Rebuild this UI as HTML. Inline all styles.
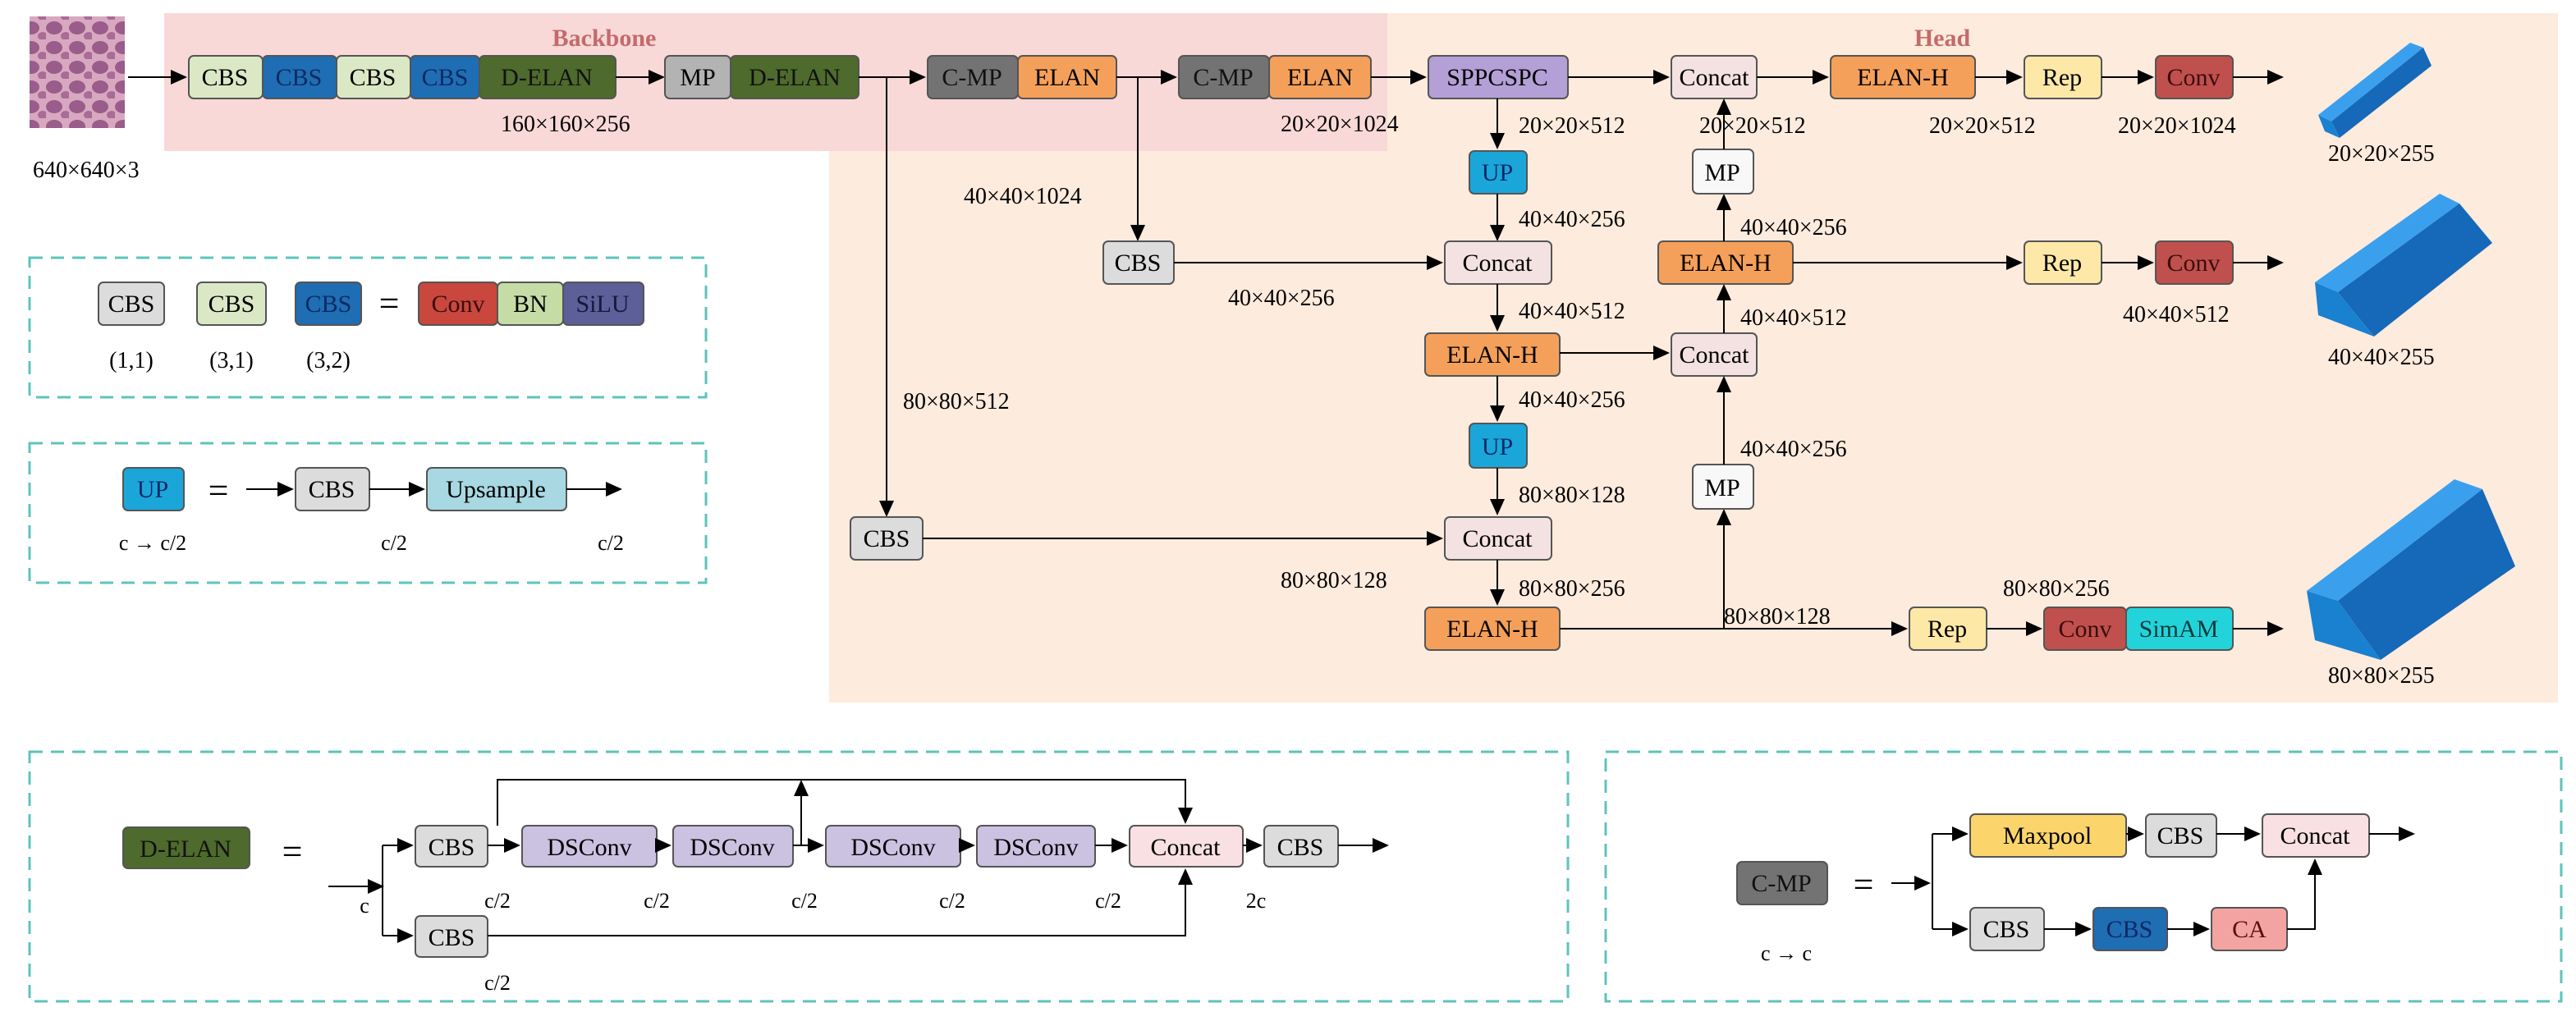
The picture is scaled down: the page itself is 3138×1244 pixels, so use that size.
<!DOCTYPE html>
<html><head><meta charset="utf-8"><style>
html,body{margin:0;padding:0;background:#fff;}
svg{display:block;font-family:"Liberation Serif","DejaVu Serif",serif;}
svg text{font-family:"Liberation Serif","DejaVu Serif",serif;}
</style></head><body>
<svg width="3138" height="1244" viewBox="0 0 1569 622" xmlns="http://www.w3.org/2000/svg">
<defs>
<marker id="a" markerWidth="10" markerHeight="10" refX="9" refY="5" orient="auto" markerUnits="userSpaceOnUse"><path d="M0,0.5 L10,5 L0,9.5 z" fill="#000"/></marker>
<pattern id="cells" width="14" height="12" patternUnits="userSpaceOnUse"><rect width="14" height="12" fill="#d8a8c0"/><ellipse cx="5" cy="5" rx="5" ry="4" fill="#9a5c8a"/><ellipse cx="12" cy="10" rx="3" ry="2.5" fill="#a86c96"/></pattern>
</defs>
<rect x="505" y="8" width="1053" height="420" fill="#fdebdd"/>
<rect x="100" y="8" width="745" height="84" fill="#f8d9d7"/>
<text x="368" y="28" font-size="15" font-weight="bold" fill="#c46a6a" text-anchor="middle">Backbone</text>
<text x="1183" y="28" font-size="15" font-weight="bold" fill="#c46a6a" text-anchor="middle">Head</text>
<rect x="18" y="10" width="58" height="68" fill="url(#cells)"/>
<text x="20" y="108" font-size="14">640×640×3</text>

<g font-size="15" text-anchor="middle" stroke-width="1">
<line x1="78" y1="47" x2="113" y2="47" stroke="#000" marker-end="url(#a)"/>
<rect x="115" y="34" width="45" height="26" rx="3" fill="#dbe8c6" stroke="#555"/><text x="137" y="52">CBS</text>
<rect x="160" y="34" width="45" height="26" rx="3" fill="#1f6db2" stroke="#555"/><text x="182" y="52" fill="#0d2a66">CBS</text>
<rect x="205" y="34" width="45" height="26" rx="3" fill="#dbe8c6" stroke="#555"/><text x="227" y="52">CBS</text>
<rect x="250" y="34" width="42" height="26" rx="3" fill="#1f6db2" stroke="#555"/><text x="271" y="52" fill="#0d2a66">CBS</text>
<rect x="292" y="34" width="83" height="26" rx="3" fill="#4e6a2c" stroke="#555"/><text x="333" y="52" fill="#111">D-ELAN</text>
<text x="305" y="80" font-size="14" text-anchor="start">160×160×256</text>
<line x1="375" y1="47" x2="404" y2="47" stroke="#000" marker-end="url(#a)"/>
<rect x="405" y="34" width="40" height="26" rx="3" fill="#b3b3b3" stroke="#555"/><text x="425" y="52">MP</text>
<rect x="445" y="34" width="78" height="26" rx="3" fill="#4e6a2c" stroke="#555"/><text x="484" y="52" fill="#111">D-ELAN</text>
<line x1="523" y1="47" x2="563" y2="47" stroke="#000" marker-end="url(#a)"/>
<line x1="540" y1="47" x2="540" y2="314" stroke="#000" marker-end="url(#a)"/>
<rect x="565" y="34" width="55" height="26" rx="3" fill="#737373" stroke="#555"/><text x="592" y="52" fill="#111">C-MP</text>
<rect x="620" y="34" width="60" height="26" rx="3" fill="#f5a05a" stroke="#555"/><text x="650" y="52">ELAN</text>
<line x1="680" y1="47" x2="716" y2="47" stroke="#000" marker-end="url(#a)"/>
<line x1="693" y1="47" x2="693" y2="146" stroke="#000" marker-end="url(#a)"/>
<rect x="718" y="34" width="55" height="26" rx="3" fill="#737373" stroke="#555"/><text x="745" y="52" fill="#111">C-MP</text>
<rect x="773" y="34" width="62" height="26" rx="3" fill="#f5a05a" stroke="#555"/><text x="804" y="52">ELAN</text>
<text x="780" y="80" font-size="14" text-anchor="start">20×20×1024</text>
<line x1="835" y1="47" x2="868" y2="47" stroke="#000" marker-end="url(#a)"/>
<rect x="870" y="34" width="85" height="26" rx="3" fill="#b49fd6" stroke="#555"/><text x="912" y="52">SPPCSPC</text>
<line x1="955" y1="47" x2="1016" y2="47" stroke="#000" marker-end="url(#a)"/>
<rect x="1018" y="34" width="52" height="26" rx="3" fill="#f4e2e2" stroke="#555"/><text x="1044" y="52">Concat</text>
<line x1="1070" y1="47" x2="1113" y2="47" stroke="#000" marker-end="url(#a)"/>
<rect x="1115" y="34" width="88" height="26" rx="3" fill="#f5a05a" stroke="#555"/><text x="1159" y="52">ELAN-H</text>
<line x1="1203" y1="47" x2="1231" y2="47" stroke="#000" marker-end="url(#a)"/>
<rect x="1233" y="34" width="47" height="26" rx="3" fill="#fde8a8" stroke="#555"/><text x="1256" y="52">Rep</text>
<line x1="1280" y1="47" x2="1311" y2="47" stroke="#000" marker-end="url(#a)"/>
<rect x="1313" y="34" width="47" height="26" rx="3" fill="#c0504d" stroke="#555"/><text x="1336" y="52" fill="#3a0d0d">Conv</text>
<line x1="1360" y1="47" x2="1390" y2="47" stroke="#000" marker-end="url(#a)"/>
</g>
<g font-size="14">
<text x="925" y="81">20×20×512</text>
<text x="1035" y="81">20×20×512</text>
<text x="1175" y="81">20×20×512</text>
<text x="1290" y="81">20×20×1024</text>
<text x="1418" y="98">20×20×255</text>
<text x="587" y="124">40×40×1024</text>
<text x="925" y="138">40×40×256</text>
<text x="1060" y="143">40×40×256</text>
<text x="748" y="186">40×40×256</text>
<text x="925" y="194">40×40×512</text>
<text x="1060" y="198">40×40×512</text>
<text x="1293" y="196">40×40×512</text>
<text x="1418" y="222">40×40×255</text>
<text x="550" y="249">80×80×512</text>
<text x="925" y="248">40×40×256</text>
<text x="1060" y="278">40×40×256</text>
<text x="925" y="306">80×80×128</text>
<text x="780" y="358">80×80×128</text>
<text x="925" y="363">80×80×256</text>
<text x="1220" y="363">80×80×256</text>
<text x="1050" y="380">80×80×128</text>
<text x="1418" y="416">80×80×255</text>
</g>
<g font-size="15" text-anchor="middle">
<line x1="912" y1="60" x2="912" y2="90" stroke="#000" marker-end="url(#a)"/>
<rect x="895" y="92" width="35" height="26" rx="3" fill="#1ba6da" stroke="#555"/><text x="912" y="110" fill="#0d2a66">UP</text>
<line x1="912" y1="118" x2="912" y2="146" stroke="#000" marker-end="url(#a)"/>
<rect x="672" y="147" width="43" height="26" rx="3" fill="#dcdcdc" stroke="#555"/><text x="693" y="165">CBS</text>
<line x1="715" y1="160" x2="878" y2="160" stroke="#000" marker-end="url(#a)"/>
<rect x="880" y="147" width="65" height="26" rx="3" fill="#f4e2e2" stroke="#555"/><text x="912" y="165">Concat</text>
<line x1="912" y1="173" x2="912" y2="201" stroke="#000" marker-end="url(#a)"/>
<rect x="868" y="203" width="82" height="26" rx="3" fill="#f5a05a" stroke="#555"/><text x="909" y="221">ELAN-H</text>
<line x1="950" y1="215" x2="1016" y2="215" stroke="#000" marker-end="url(#a)"/>
<rect x="1018" y="203" width="52" height="26" rx="3" fill="#f4e2e2" stroke="#555"/><text x="1044" y="221">Concat</text>
<line x1="1050" y1="203" x2="1050" y2="174" stroke="#000" marker-end="url(#a)"/>
<rect x="1010" y="147" width="82" height="26" rx="3" fill="#f5a05a" stroke="#555"/><text x="1051" y="165">ELAN-H</text>
<line x1="1050" y1="147" x2="1050" y2="119" stroke="#000" marker-end="url(#a)"/>
<rect x="1031" y="91" width="37" height="27" rx="3" fill="#f8f8f8" stroke="#555"/><text x="1049" y="110">MP</text>
<line x1="1050" y1="91" x2="1050" y2="61" stroke="#000" marker-end="url(#a)"/>
<line x1="1092" y1="160" x2="1231" y2="160" stroke="#000" marker-end="url(#a)"/>
<rect x="1233" y="147" width="47" height="26" rx="3" fill="#fde8a8" stroke="#555"/><text x="1256" y="165">Rep</text>
<line x1="1280" y1="160" x2="1311" y2="160" stroke="#000" marker-end="url(#a)"/>
<rect x="1313" y="147" width="47" height="26" rx="3" fill="#c0504d" stroke="#555"/><text x="1336" y="165" fill="#3a0d0d">Conv</text>
<line x1="1360" y1="160" x2="1390" y2="160" stroke="#000" marker-end="url(#a)"/>
<line x1="912" y1="229" x2="912" y2="256" stroke="#000" marker-end="url(#a)"/>
<rect x="895" y="258" width="35" height="27" rx="3" fill="#1ba6da" stroke="#555"/><text x="912" y="277" fill="#0d2a66">UP</text>
<line x1="912" y1="285" x2="912" y2="313" stroke="#000" marker-end="url(#a)"/>
<rect x="518" y="315" width="44" height="26" rx="3" fill="#dcdcdc" stroke="#555"/><text x="540" y="333">CBS</text>
<line x1="562" y1="328" x2="878" y2="328" stroke="#000" marker-end="url(#a)"/>
<rect x="880" y="315" width="65" height="26" rx="3" fill="#f4e2e2" stroke="#555"/><text x="912" y="333">Concat</text>
<line x1="912" y1="341" x2="912" y2="368" stroke="#000" marker-end="url(#a)"/>
<rect x="868" y="370" width="82" height="26" rx="3" fill="#f5a05a" stroke="#555"/><text x="909" y="388">ELAN-H</text>
<line x1="950" y1="383" x2="1161" y2="383" stroke="#000" marker-end="url(#a)"/>
<line x1="1050" y1="383" x2="1050" y2="311" stroke="#000" marker-end="url(#a)"/>
<rect x="1031" y="283" width="37" height="27" rx="3" fill="#f8f8f8" stroke="#555"/><text x="1049" y="302">MP</text>
<line x1="1050" y1="283" x2="1050" y2="230" stroke="#000" marker-end="url(#a)"/>
<rect x="1163" y="370" width="47" height="26" rx="3" fill="#fde8a8" stroke="#555"/><text x="1186" y="388">Rep</text>
<line x1="1210" y1="383" x2="1243" y2="383" stroke="#000" marker-end="url(#a)"/>
<rect x="1245" y="370" width="50" height="26" rx="3" fill="#c0504d" stroke="#555"/><text x="1270" y="388" fill="#3a0d0d">Conv</text>
<rect x="1295" y="370" width="65" height="26" rx="3" fill="#22d4da" stroke="#555"/><text x="1327" y="388" fill="#0d3a3a">SimAM</text>
<line x1="1360" y1="383" x2="1390" y2="383" stroke="#000" marker-end="url(#a)"/>
</g>
<polygon points="1412,70 1468,26 1476,29 1420,74" fill="#3aa0ee"/>
<polygon points="1420,74 1476,29 1481,40 1425,84" fill="#1668b8"/>
<polygon points="1412,70 1420,74 1425,84 1416,80" fill="#1a80d0"/>
<polygon points="1410,172 1486,118 1498,124 1424,178" fill="#3aa0ee"/>
<polygon points="1424,178 1498,124 1518,148 1446,205" fill="#1668b8"/>
<polygon points="1410,172 1424,178 1446,205 1412,192" fill="#1a80d0"/>
<polygon points="1405,360 1495,292 1512,298 1424,366" fill="#3aa0ee"/>
<polygon points="1424,366 1512,298 1532,345 1450,402" fill="#1668b8"/>
<polygon points="1405,360 1424,366 1450,402 1410,390" fill="#1a80d0"/>

<g fill="none" stroke="#5cc4bc" stroke-width="1.5" stroke-dasharray="8,5">
<rect x="18" y="157" width="412" height="85"/>
<rect x="18" y="270" width="412" height="85"/>
<rect x="18" y="458" width="937" height="152"/>
<rect x="978" y="458" width="582" height="152"/>
</g>
<g font-size="15" text-anchor="middle">
<rect x="60" y="172" width="40" height="26" rx="3" fill="#dcdcdc" stroke="#555"/><text x="80" y="190">CBS</text>
<rect x="120" y="172" width="42" height="26" rx="3" fill="#dbe8c6" stroke="#555"/><text x="141" y="190">CBS</text>
<rect x="180" y="172" width="40" height="26" rx="3" fill="#1f6db2" stroke="#555"/><text x="200" y="190" fill="#0d2a66">CBS</text>
<text x="237" y="192" font-size="22">=</text>
<rect x="255" y="172" width="48" height="26" rx="3" fill="#c9473d" stroke="#555"/><text x="279" y="190" fill="#3a0d0d">Conv</text>
<rect x="303" y="172" width="40" height="26" rx="3" fill="#c6dca6" stroke="#555"/><text x="323" y="190">BN</text>
<rect x="343" y="172" width="49" height="26" rx="3" fill="#5c5f98" stroke="#555"/><text x="367" y="190" fill="#16183a">SiLU</text>
<text x="80" y="224" font-size="14">(1,1)</text><text x="141" y="224" font-size="14">(3,1)</text><text x="200" y="224" font-size="14">(3,2)</text>

<rect x="75" y="285" width="37" height="26" rx="3" fill="#1ba6da" stroke="#555"/><text x="93" y="303" fill="#0d2a66">UP</text>
<text x="133" y="306" font-size="22">=</text>
<line x1="150" y1="298" x2="178" y2="298" stroke="#000" marker-end="url(#a)"/>
<rect x="180" y="285" width="45" height="26" rx="3" fill="#dcdcdc" stroke="#555"/><text x="202" y="303">CBS</text>
<line x1="225" y1="298" x2="258" y2="298" stroke="#000" marker-end="url(#a)"/>
<rect x="260" y="285" width="85" height="26" rx="3" fill="#a8d8e2" stroke="#555"/><text x="302" y="303">Upsample</text>
<line x1="345" y1="298" x2="378" y2="298" stroke="#000" marker-end="url(#a)"/>
<text x="93" y="335" font-size="13">c → c/2</text><text x="240" y="335" font-size="13">c/2</text><text x="372" y="335" font-size="13">c/2</text>

<rect x="75" y="504" width="77" height="25" rx="3" fill="#4e6a2c" stroke="#555"/><text x="113" y="522" fill="#111">D-ELAN</text>
<text x="178" y="526" font-size="22">=</text>
<line x1="200" y1="540" x2="233" y2="540" stroke="#000" marker-end="url(#a)"/>
<line x1="233" y1="515" x2="233" y2="570" stroke="#000"/>
<line x1="233" y1="515" x2="251" y2="515" stroke="#000" marker-end="url(#a)"/>
<line x1="233" y1="570" x2="251" y2="570" stroke="#000" marker-end="url(#a)"/>
<text x="222" y="556" font-size="13">c</text>
<rect x="253" y="503" width="44" height="25" rx="3" fill="#dcdcdc" stroke="#555"/><text x="275" y="521">CBS</text>
<rect x="253" y="558" width="44" height="25" rx="3" fill="#dcdcdc" stroke="#555"/><text x="275" y="576">CBS</text>
<line x1="297" y1="515" x2="316" y2="515" stroke="#000" marker-end="url(#a)"/>
<rect x="318" y="503" width="82" height="25" rx="3" fill="#cbc2e2" stroke="#555"/><text x="359" y="521">DSConv</text>
<line x1="400" y1="515" x2="408" y2="515" stroke="#000" marker-end="url(#a)"/>
<rect x="410" y="503" width="73" height="25" rx="3" fill="#cbc2e2" stroke="#555"/><text x="446" y="521">DSConv</text>
<line x1="483" y1="515" x2="501" y2="515" stroke="#000" marker-end="url(#a)"/>
<rect x="503" y="503" width="82" height="25" rx="3" fill="#cbc2e2" stroke="#555"/><text x="544" y="521">DSConv</text>
<line x1="585" y1="515" x2="593" y2="515" stroke="#000" marker-end="url(#a)"/>
<rect x="595" y="503" width="72" height="25" rx="3" fill="#cbc2e2" stroke="#555"/><text x="631" y="521">DSConv</text>
<line x1="667" y1="515" x2="686" y2="515" stroke="#000" marker-end="url(#a)"/>
<rect x="688" y="503" width="69" height="25" rx="3" fill="#f8e0e3" stroke="#555"/><text x="722" y="521">Concat</text>
<line x1="757" y1="515" x2="768" y2="515" stroke="#000" marker-end="url(#a)"/>
<rect x="770" y="503" width="45" height="25" rx="3" fill="#dcdcdc" stroke="#555"/><text x="792" y="521">CBS</text>
<line x1="815" y1="515" x2="845" y2="515" stroke="#000" marker-end="url(#a)"/>
<polyline points="303,503 303,475 722,475 722,501" fill="none" stroke="#000" marker-end="url(#a)"/>
<line x1="488" y1="515" x2="488" y2="476" stroke="#000" marker-end="url(#a)"/>
<polyline points="297,570 722,570 722,530" fill="none" stroke="#000" marker-end="url(#a)"/>
<g font-size="13"><text x="303" y="553">c/2</text><text x="400" y="553">c/2</text><text x="490" y="553">c/2</text><text x="580" y="553">c/2</text><text x="675" y="553">c/2</text><text x="765" y="553">2c</text><text x="303" y="603">c/2</text></g>

<rect x="1058" y="525" width="55" height="26" rx="3" fill="#737373" stroke="#555"/><text x="1085" y="543" fill="#111">C-MP</text>
<text x="1135" y="546" font-size="22">=</text>
<line x1="1152" y1="538" x2="1175" y2="538" stroke="#000" marker-end="url(#a)"/>
<line x1="1177" y1="508" x2="1177" y2="566" stroke="#000"/>
<line x1="1177" y1="508" x2="1198" y2="508" stroke="#000" marker-end="url(#a)"/>
<line x1="1177" y1="566" x2="1198" y2="566" stroke="#000" marker-end="url(#a)"/>
<rect x="1200" y="496" width="95" height="26" rx="3" fill="#fbd56c" stroke="#555"/><text x="1247" y="514">Maxpool</text>
<line x1="1295" y1="508" x2="1305" y2="508" stroke="#000" marker-end="url(#a)"/>
<rect x="1307" y="496" width="43" height="26" rx="3" fill="#dcdcdc" stroke="#555"/><text x="1328" y="514">CBS</text>
<line x1="1350" y1="508" x2="1376" y2="508" stroke="#000" marker-end="url(#a)"/>
<rect x="1378" y="496" width="65" height="26" rx="3" fill="#f8e0e3" stroke="#555"/><text x="1410" y="514">Concat</text>
<line x1="1443" y1="508" x2="1470" y2="508" stroke="#000" marker-end="url(#a)"/>
<rect x="1200" y="553" width="45" height="26" rx="3" fill="#dcdcdc" stroke="#555"/><text x="1222" y="571">CBS</text>
<line x1="1245" y1="566" x2="1273" y2="566" stroke="#000" marker-end="url(#a)"/>
<rect x="1275" y="553" width="45" height="26" rx="3" fill="#1f6db2" stroke="#555"/><text x="1297" y="571" fill="#0d2a66">CBS</text>
<line x1="1320" y1="566" x2="1345" y2="566" stroke="#000" marker-end="url(#a)"/>
<rect x="1347" y="553" width="46" height="26" rx="3" fill="#f4a3a3" stroke="#555"/><text x="1370" y="571" fill="#5a1010">CA</text>
<polyline points="1393,566 1410,566 1410,524" fill="none" stroke="#000" marker-end="url(#a)"/>
<text x="1088" y="585" font-size="13">c → c</text>
</g>
</svg>
</body></html>
